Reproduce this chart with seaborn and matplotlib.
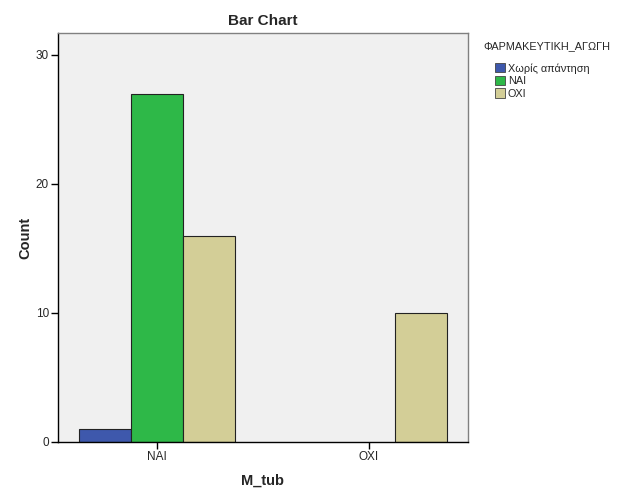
import pandas as pd
import matplotlib.pyplot as plt
import seaborn as sns
from matplotlib.patches import Patch

categories = ["ΝΑΙ", "ΟΧΙ"]
hue_levels = ["Χωρίς απάντηση", "ΝΑΙ", "ΟΧΙ"]
counts_nai = [1, 27, 16]
counts_oxi = [0, 0, 10]
colors = ["#3E58AC", "#2EB848", "#D3CE97"]
legend_title = "ΦΑΡΜΑΚΕΥΤΙΚΗ_ΑΓΩΓΗ"

df = pd.DataFrame({
    "M_tub": [categories[0]] * 3 + [categories[1]] * 3,
    "group": hue_levels * 2,
    "Count": counts_nai + counts_oxi,
})

sns.set_theme(style="white")
plt.rcParams["font.family"] = ["Liberation Sans", "DejaVu Sans"]

fig = plt.figure(figsize=(6.26, 5.01), dpi=100)
ax = fig.add_axes([58 / 626, 1 - 442 / 501, 410 / 626, 409 / 501])
ax.set_facecolor("#F0F0F0")

sns.barplot(data=df, x="M_tub", y="Count", hue="group", order=categories,
            hue_order=hue_levels, palette=colors, width=0.736, gap=0,
            edgecolor="#222222", linewidth=0.8, saturation=1, ax=ax, legend=False)

# hide zero-height bars
for p in ax.patches:
    if p.get_height() == 0:
        p.set_visible(False)

ax.set_xlim(-0.467, 1.467)
ax.set_ylim(0, 31.7)
ax.set_yticks([0, 10, 20, 30])
ax.tick_params(axis="both", labelsize=8.5, length=5, width=1, color="black",
               left=True, bottom=True, direction="out", pad=1.5)
for side in ["left", "bottom"]:
    ax.spines[side].set_color("black")
    ax.spines[side].set_linewidth(1)
for side in ["top", "right"]:
    ax.spines[side].set_color("#808080")
    ax.spines[side].set_linewidth(1)

ax.set_title("Bar Chart", fontsize=11, fontweight="bold", pad=6)
ax.set_xlabel("M_tub", fontsize=10.5, fontweight="bold", labelpad=8)
ax.set_ylabel("Count", fontsize=10.5, fontweight="bold", labelpad=2.5)

fig.text(483 / 626, 1 - 46 / 501, legend_title, fontsize=7.8, va="center", ha="left")
handles = [Patch(facecolor=c, edgecolor="#444444", linewidth=0.6) for c in colors]
fig.legend(handles, hue_levels, loc="upper left",
           bbox_to_anchor=(495 / 626, 1 - 63 / 501),
           frameon=False, fontsize=7.8, borderpad=0,
           handlelength=0.95, handleheight=0.95, handletextpad=0.25,
           labelspacing=0.2, borderaxespad=0)

fig.savefig("out.png", dpi=100)
plt.close(fig)
